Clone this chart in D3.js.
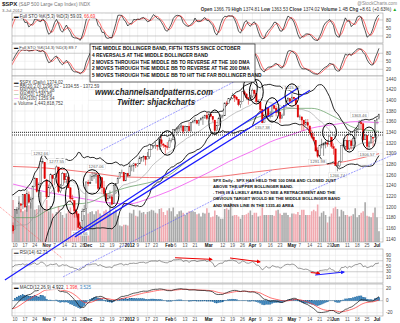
<!DOCTYPE html>
<html><head><meta charset="utf-8">
<script src="https://cdn.jsdelivr.net/npm/d3@7/dist/d3.min.js"></script>
<style>body{margin:0;background:#fff}svg{display:block}text{font-family:"Liberation Sans",Arial,sans-serif}</style>
</head><body><svg id="c" width="400" height="323"></svg>
<script>
// ---------------- DATA ----------------
const months = [
 ["2011-09",[1,2,6,7,8,9,12,13,14,15,16,19,20,21,22,23,26,27,28,29,30]],
 ["2011-10",[3,4,5,6,7,10,11,12,13,14,17,18,19,20,21,24,25,26,27,28,31]],
 ["2011-11",[1,2,3,4,7,8,9,10,11,14,15,16,17,18,21,22,23,25,28,29,30]],
 ["2011-12",[1,2,5,6,7,8,9,12,13,14,15,16,19,20,21,22,23,27,28,29,30]],
 ["2012-01",[3,4,5,6,9,10,11,12,13,17,18,19,20,23,24,25,26,27,30,31]],
 ["2012-02",[1,2,3,6,7,8,9,10,13,14,15,16,17,21,22,23,24,27,28,29]],
 ["2012-03",[1,2,5,6,7,8,9,12,13,14,15,16,19,20,21,22,23,26,27,28,29,30]],
 ["2012-04",[2,3,4,5,9,10,11,12,13,16,17,18,19,20,23,24,25,26,27,30]],
 ["2012-05",[1,2,3,4,7,8,9,10,11,14,15,16,17,18,21,22,23,24,25,29,30,31]],
 ["2012-06",[1,4,5,6,7,8,11,12,13,14,15,18,19,20,21,22,25,26,27,28,29]],
 ["2012-07",[2,3]]
];
const dates = months.flatMap(([m,ds])=>ds.map(d=>m+"-"+String(d).padStart(2,"0")));

const opens = [
 1219,1204,1160,1166,1197,1185,1153,1162,1173,1189,1209,1214,1205,1203,1164,1128,1136,1163,1175,1151,1159,
 1131,1097,1124,1144,1165,1158,1194,1196,1206,1205,1224,1200,1223,1208,1215,1238,1254,1230,1243,1284,1284,
 1251,1219,1238,1260,1253,1262,1275,1230,1240,1263,1251,1256,1236,1216,1212,1192,1187,1162,1175,1192,1197,
 1246,1246,1250,1257,1258,1260,1235,1255,1236,1225,1216,1217,1219,1206,1241,1244,1254,1265,1265,1249,1263,
 1258,1277,1277,1281,1278,1281,1292,1293,1295,1290,1294,1308,1315,1315,1316,1314,1326,1318,1316,1313,
 1312,1325,1326,1344,1345,1347,1350,1352,1343,1351,1351,1343,1358,1362,1362,1357,1363,1366,1368,1372,
 1366,1374,1370,1363,1343,1353,1366,1370,1371,1395,1394,1403,1404,1409,1406,1402,1392,1398,1416,1412,1405,1404,
 1408,1419,1413,1398,1397,1383,1358,1369,1386,1370,1370,1390,1385,1377,1378,1366,1372,1390,1400,1403,
 1398,1406,1403,1391,1368,1369,1363,1355,1358,1352,1338,1331,1325,1306,1296,1316,1316,1318,1320,1318,1331,1313,
 1309,1278,1277,1285,1316,1314,1325,1309,1324,1315,1329,1342,1345,1358,1356,1326,1334,1314,1320,1331,1330,
 1362,1366];
const highs = [
 1230,1204,1168,1198,1204,1185,1163,1177,1202,1209,1220,1214,1220,1206,1164,1141,1164,1195,1185,1175,1159,
 1138,1125,1146,1165,1171,1195,1200,1220,1207,1224,1224,1233,1229,1219,1240,1256,1254,1246,1293,1292,1284,
 1251,1242,1263,1260,1262,1278,1275,1243,1266,1263,1264,1259,1237,1223,1212,1197,1187,1172,1197,1204,1247,
 1251,1261,1266,1266,1267,1260,1258,1255,1249,1225,1226,1231,1224,1242,1245,1256,1265,1270,1265,1264,1264,
 1285,1279,1283,1281,1282,1296,1293,1297,1295,1303,1308,1315,1315,1322,1316,1328,1333,1320,1316,1322,
 1330,1329,1345,1345,1350,1351,1357,1352,1353,1351,1359,1359,1364,1368,1363,1364,1368,1371,1373,1378,
 1377,1376,1370,1363,1354,1369,1374,1373,1396,1399,1403,1406,1414,1409,1408,1402,1399,1417,1419,1413,1405,1410,
 1422,1420,1413,1401,1397,1384,1370,1387,1386,1380,1392,1390,1390,1387,1378,1375,1391,1402,1406,1403,
 1415,1406,1404,1392,1373,1369,1363,1365,1365,1352,1345,1339,1326,1312,1316,1328,1321,1324,1325,1334,1331,1319,
 1309,1282,1287,1315,1329,1326,1335,1325,1327,1333,1343,1348,1363,1361,1358,1337,1334,1324,1334,1331,1362,
 1366,1375];
const lows = [
 1203,1170,1140,1166,1183,1148,1137,1158,1162,1185,1207,1187,1201,1166,1114,1121,1131,1163,1150,1139,1131,
 1099,1074,1116,1134,1150,1158,1187,1196,1190,1196,1198,1191,1206,1197,1215,1238,1227,1219,1243,1281,1253,
 1215,1219,1234,1239,1241,1255,1226,1226,1240,1246,1244,1235,1209,1211,1180,1180,1161,1159,1175,1191,1197,
 1239,1244,1250,1253,1244,1231,1235,1227,1219,1209,1212,1215,1203,1206,1225,1244,1254,1262,1248,1249,1257,
 1258,1267,1266,1273,1275,1281,1285,1285,1278,1290,1290,1308,1310,1309,1306,1307,1313,1311,1300,1307,
 1312,1321,1326,1340,1336,1341,1343,1337,1343,1340,1341,1341,1357,1357,1355,1352,1363,1354,1365,1363,
 1366,1368,1359,1340,1343,1353,1366,1366,1371,1390,1394,1400,1402,1397,1400,1389,1386,1398,1411,1401,1392,1401,
 1404,1405,1394,1393,1378,1357,1358,1369,1370,1366,1370,1383,1370,1377,1358,1366,1372,1387,1397,1394,
 1394,1398,1388,1367,1363,1343,1343,1352,1348,1335,1328,1324,1304,1292,1296,1310,1296,1310,1313,1318,1310,1298,
 1277,1267,1274,1285,1312,1306,1307,1306,1308,1306,1329,1339,1345,1346,1324,1326,1307,1310,1320,1313,1330,
 1355,1364];
const closes = [
 1204,1174,1166,1198,1185,1154,1162,1172,1188,1209,1216,1204,1202,1166,1130,1136,1162,1175,1151,1160,1131,
 1099,1124,1144,1165,1155,1195,1196,1207,1203,1224,1200,1225,1209,1215,1238,1254,1229,1242,1285,1285,1253,
 1219,1237,1261,1253,1261,1275,1229,1239,1263,1251,1257,1236,1216,1215,1193,1188,1162,1159,1192,1195,1247,
 1244,1244,1257,1259,1261,1235,1255,1236,1225,1212,1216,1219,1205,1241,1244,1254,1265,1265,1249,1263,1258,
 1277,1277,1281,1278,1281,1292,1293,1295,1289,1294,1308,1315,1315,1316,1314,1326,1319,1316,1313,1312,
 1324,1325,1345,1345,1347,1350,1352,1342,1351,1351,1343,1358,1361,1362,1357,1363,1366,1368,1372,1366,
 1374,1370,1364,1343,1353,1366,1371,1371,1395,1394,1403,1404,1409,1405,1402,1392,1397,1416,1412,1405,1403,1408,
 1419,1413,1398,1398,1383,1358,1368,1387,1370,1370,1391,1385,1377,1379,1366,1371,1390,1399,1403,1398,
 1406,1403,1392,1369,1369,1363,1355,1358,1353,1339,1331,1325,1305,1295,1316,1317,1319,1321,1318,1333,1314,1310,
 1278,1278,1285,1315,1315,1325,1308,1324,1315,1329,1343,1345,1358,1356,1326,1335,1314,1320,1332,1329,1362,
 1365,1374];
const volumes = [ // billions
 4.0,4.0,5.1,4.4,4.9,5.0,5.2,4.7,4.9,4.5,5.2,4.3,4.3,4.7,6.7,5.6,4.8,5.5,4.8,5.3,4.4,
 5.7,7.2,5.9,5.1,5.6,4.4,4.4,5.4,4.4,4.1,4.3,5.3,4.9,5.3,6.0,4.3,4.4,4.9,6.7,4.5,4.3,
 5.6,4.1,4.8,3.8,3.4,4.0,4.8,4.0,3.6,3.2,3.8,4.1,4.6,3.8,4.2,3.9,3.8,1.4,3.9,3.6,5.8,
 3.8,4.0,4.1,3.7,4.1,4.3,3.8,3.6,4.1,4.3,3.8,5.3,3.7,4.1,4.3,3.5,2.2,2.1,2.3,2.3,2.2,
 3.9,3.8,4.3,3.5,3.4,4.2,3.9,4.0,3.7,4.0,4.1,4.3,4.2,3.9,3.8,4.4,4.5,4.0,3.6,4.2,
 4.5,4.1,4.6,3.4,3.7,4.1,4.2,3.9,3.6,3.9,4.1,4.1,4.1,4.0,3.7,3.8,3.4,3.9,3.8,4.5,
 3.9,3.3,3.4,4.2,3.6,3.4,3.1,3.1,4.4,4.5,4.3,5.2,3.5,3.6,3.6,3.4,3.1,3.6,3.6,3.7,3.9,4.2,
 3.6,3.9,3.9,3.4,3.5,4.6,3.6,3.6,3.6,3.6,3.6,3.5,4.2,4.3,3.8,3.6,3.9,3.9,3.6,3.3,
 3.8,3.8,3.7,4.0,3.6,4.3,4.3,3.6,3.6,3.6,4.1,4.3,4.1,5.0,3.4,3.9,4.1,3.6,2.6,3.4,3.8,4.5,
 4.7,4.4,3.4,4.3,4.1,3.6,3.6,3.4,3.5,3.7,4.5,3.3,3.6,3.9,4.1,5.3,3.5,3.4,3.3,3.9,4.6,
 3.3,1.44];

const ma50 = [["2011-10-07",1180],["2011-10-21",1180],["2011-11-01",1193],["2011-11-15",1204],["2011-12-01",1208],["2011-12-15",1225],["2012-01-03",1238],["2012-01-17",1245],["2012-02-01",1260],["2012-02-15",1289],["2012-03-01",1313],["2012-03-15",1338],["2012-04-02",1364],["2012-04-16",1376],["2012-05-01",1385],["2012-05-15",1385],["2012-06-01",1368],["2012-06-15",1348],["2012-07-03",1342]];
const ma100 = [["2011-10-07",1243],["2011-11-01",1228],["2011-11-15",1221],["2011-12-01",1214],["2011-12-15",1208],["2012-01-03",1206],["2012-01-17",1215],["2012-02-01",1230],["2012-02-15",1247],["2012-03-01",1265],["2012-03-15",1285],["2012-04-02",1305],["2012-04-16",1322],["2012-05-01",1336],["2012-05-15",1348],["2012-06-01",1355],["2012-06-15",1360],["2012-07-03",1358]];
const ma200 = [["2011-10-07",1276],["2011-11-01",1273],["2011-12-01",1265],["2012-01-03",1256],["2012-02-01",1255],["2012-03-01",1256],["2012-04-02",1265],["2012-05-01",1274],["2012-06-01",1282],["2012-07-03",1300]];

const xTicks = [["2011-10-10","10",0],["2011-10-17","17",0],["2011-10-24","24",0],["2011-11-01","Nov",1],["2011-11-07","7",0],["2011-11-14","14",0],["2011-11-21","21",0],["2011-11-28","28",0],["2011-12-01","Dec",1],["2011-12-12","12",0],["2011-12-19","19",0],["2011-12-27","27",0],["2012-01-03","2012",1],["2012-01-09","9",0],["2012-01-17","17",0],["2012-01-23","23",0],["2012-02-01","Feb",1],["2012-02-06","6",0],["2012-02-13","13",0],["2012-02-21","21",0],["2012-03-01","Mar",1],["2012-03-12","12",0],["2012-03-19","19",0],["2012-03-26","26",0],["2012-04-02","Apr",1],["2012-04-09","9",0],["2012-04-16","16",0],["2012-04-23","23",0],["2012-05-01","May",1],["2012-05-07","7",0],["2012-05-14","14",0],["2012-05-21","21",0],["2012-05-29","29",0],["2012-06-01","Jun",1],["2012-06-11","11",0],["2012-06-18","18",0],["2012-06-25","25",0],["2012-07-02","Jul",1]];
const priceTicks = [1440,1420,1400,1380,1360,1340,1320,1300,1280,1260,1240,1220,1200,1180,1160,1140];
const stoTicks = [80,50,20];
const rsiTicks = [90,70,50,30,10];
const macdTicks = [20,0,-20];

const priceNotes = [["2011-10-27","1292.66","h"],["2011-11-08","1277.55","h"],["2011-12-07","1267.06","h"],["2011-11-25","1158.66","l"],["2012-05-01","1415.32","h"],["2012-04-10","1357.38","l"],["2012-05-18","1291.98","l"],["2012-06-04","1266.74","l"],["2012-06-19","1363.46","h"],["2012-06-25","1306.57","l"]];

// annotations (date, price, half-width in days, half-height in points)
const ellipses = [["2011-11-01",1222,4,28],["2011-11-11",1254,3.3,19],["2011-11-18",1219,3.5,32],["2011-12-05",1247,4.5,23],["2011-12-19",1222,3.5,23],["2012-01-31",1320,4,23],["2012-03-06",1359,3,23],["2012-03-30",1423,3.5,23],["2012-04-04",1416,3.5,23],["2012-04-17",1382,3.5,23],["2012-05-01",1410,3.5,21],["2012-05-29",1340,3.5,17],["2012-06-12",1320,3,17],["2012-06-26",1329,3.5,21]];
// trend lines: [idxA, priceA, idxB, priceB]
const thickLines = [[20.9,1063,169.1,1423],[56.3,1144,175.1,1419]];
const thinLines = [[50.3,1069,155.9,1269],[69.5,1306,141.6,1444],[175,1230,219,1301]];
const redDotted = [[18.4,1200,49.8,1104]];
const hLevels = [1340,1335];
const rsiRedArrows = [[106.9,81,125.6,75],[134.7,80,149.9,66],[175.5,27,180,24]];
const rsiBlueArrows = [[177.7,18,192.4,29]];

const boxText = ["THE MIDDLE BOLLINGER BAND, FIFTH TESTS SINCE OCTOBER","4 REVERSALS AT THE MIDDLE BOLLINGER BAND","2 MOVES THROUGH THE MIDDLE BB TO REVERSE AT THE 100 DMA","2 MOVES THROUGH THE MIDDLE BB TO REVERSE AT THE 200 DMA","5 MOVES THROUGH THE MIDDLE BB TO HIT THE FAR BOLLINGER BAND"];
const noteText = ["SPX Daily - SPX HAS HELD THE 100 DMA AND CLOSED JUST","ABOVE THE UPPER BOLLINGER BAND.",". THIS IS A LIKELY AREA TO SEE A RETRACEMENT AND THE","OBVIOUS TARGET WOULD BE THE MIDDLE BOLLINGER BAND","AND WARNS LINE IN THE 1335-40 AREA"];

if([opens,highs,lows,closes,volumes].some(a=>a.length!==dates.length)) throw new Error("length mismatch "+[opens,highs,lows,closes,volumes].map(a=>a.length)+" vs "+dates.length);

// ---------------- INDICATORS ----------------
const N = dates.length;
const di = d => dates.indexOf(d);
function sma(arr,p){return arr.map((v,i)=>{if(i<p-1)return null;const s=arr.slice(i-p+1,i+1);if(s.some(x=>x==null))return null;return d3.mean(s);});}
function ema(arr,p){const k=2/(p+1);let prev=null;return arr.map(v=>{if(v==null)return null;prev=prev==null?v:v*k+prev*(1-k);return prev;});}
const bbMid = sma(closes,20);
const bbSd = closes.map((c,i)=>i<19?null:Math.sqrt(d3.mean(closes.slice(i-19,i+1),v=>(v-bbMid[i])**2)));
const bbUp = bbMid.map((m,i)=>m==null?null:m+2*bbSd[i]);
const bbLo = bbMid.map((m,i)=>m==null?null:m-2*bbSd[i]);
function fullSto(k){
  const fast = closes.map((c,i)=>{if(i<k-1)return null;const hh=d3.max(highs.slice(i-k+1,i+1)),ll=d3.min(lows.slice(i-k+1,i+1));return (c-ll)/(hh-ll)*100;});
  const K = sma(fast,3); return {K, D: sma(K,3)};
}
const sto5 = fullSto(5), sto14 = fullSto(14);
const rsi = (()=>{let ag=0,al=0;const out=new Array(N).fill(null);
  for(let i=1;i<N;i++){const ch=closes[i]-closes[i-1];const g=Math.max(ch,0),l=Math.max(-ch,0);
    if(i<=14){ag+=g/14;al+=l/14;if(i===14)out[i]=100-100/(1+ag/al);}
    else{ag=(ag*13+g)/14;al=(al*13+l)/14;out[i]=100-100/(1+ag/al);} }
  return out;})();
const e12=ema(closes,12), e26=ema(closes,26);
const macd = closes.map((c,i)=>e12[i]-e26[i]);
const sig = ema(macd,9);
const hist = macd.map((m,i)=>m-sig[i]);

// ---------------- LAYOUT ----------------
const svg = d3.select("#c");
const L=12, R=383;
const x = d3.scaleLinear().domain([di("2011-10-10"),di("2012-07-02")]).range([15,377]);
const P = {sto1:[13,43], sto2:[44,76], main:[76,242], rsi:[249,283], macd:[284,316]};
const yS1 = d3.scaleLinear().domain([0,100]).range([41.3,14.6]);
const yS2 = d3.scaleLinear().domain([0,100]).range([74.6,47.9]);
const yP = d3.scaleLinear().domain([1140,1440]).range([239,79]);
const yV = d3.scaleLinear().domain([0,6]).range([242,197]);
const yR = d3.scaleLinear().domain([0,100]).range([280,252.5]);
const yM = d3.scaleLinear().domain([-20,20]).range([312.7,288.7]);
const firstVis = di("2011-10-06");

const defs = svg.append("defs");
Object.entries(P).forEach(([k,[a,b]])=>{defs.append("clipPath").attr("id","cp_"+k).append("rect").attr("x",L).attr("y",a).attr("width",R-L).attr("height",b-a);});
defs.append("marker").attr("id","arR").attr("viewBox","0 0 10 10").attr("refX",8).attr("refY",5).attr("markerWidth",4).attr("markerHeight",4).attr("orient","auto").append("path").attr("d","M0,0L10,5L0,10z").attr("fill","#e00");
defs.append("marker").attr("id","arB").attr("viewBox","0 0 10 10").attr("refX",8).attr("refY",5).attr("markerWidth",4).attr("markerHeight",4).attr("orient","auto").append("path").attr("d","M0,0L10,5L0,10z").attr("fill","#22f");

function panel(key, yScale, ticks, fmt, strong){
  const [a,b]=P[key];
  svg.append("rect").attr("x",L).attr("y",a).attr("width",R-L).attr("height",b-a).attr("fill","#fff");
  const g = svg.append("g").attr("clip-path","url(#cp_"+key+")");
  xTicks.forEach(t=>g.append("line").attr("x1",x(di(t[0]))).attr("x2",x(di(t[0]))).attr("y1",a).attr("y2",b).attr("stroke","#e2e2e2").attr("stroke-width",0.5));
  ticks.forEach(v=>{
    g.append("line").attr("x1",L).attr("x2",R).attr("y1",yScale(v)).attr("y2",yScale(v)).attr("stroke",strong&&strong.includes(v)?"#9a9a9a":"#e2e2e2").attr("stroke-width",0.5);
    svg.append("text").attr("x",R+3).attr("y",yScale(v)+1.6).attr("font-size",4.6).attr("fill","#444").text(fmt?fmt(v):v);
  });
  return g;
}
function lineOn(g, arr, yScale, color, w){
  const pts = arr.map((v,i)=>[i,v]).filter(p=>p[1]!=null && p[0]>=firstVis);
  g.append("path").attr("d",d3.line().x(p=>x(p[0])).y(p=>yScale(p[1]))(pts)).attr("fill","none").attr("stroke",color).attr("stroke-width",w);
}
function frame(key){const [a,b]=P[key];svg.append("rect").attr("x",L).attr("y",a).attr("width",R-L).attr("height",b-a).attr("fill","none").attr("stroke","#9a9a9a").attr("stroke-width",0.6);}
function legend(xp,yp,parts){
  const t = svg.append("text").attr("x",xp).attr("y",yp).attr("font-size",4.5).attr("fill","#333");
  parts.forEach(p=>t.append("tspan").attr("fill",p[1]||"#333").attr("font-weight",p[2]?"bold":null).text(p[0]));
  return t;
}

// Header
const h1 = svg.append("text").attr("x",2).attr("y",6).attr("font-size",6).attr("fill","#333");
h1.append("tspan").attr("font-weight","bold").attr("fill","#222").text("$SPX");
h1.append("tspan").attr("font-size",4.8).attr("fill","#777").text(" (S&P 500 Large Cap Index) INDX");
svg.append("text").attr("x",2).attr("y",11.5).attr("font-size",4.3).attr("fill","#666").text("3-Jul-2012");
svg.append("text").attr("x",397).attr("y",5).attr("text-anchor","end").attr("font-size",4.6).attr("fill","#888").text("@StockCharts.com");
const hd = svg.append("text").attr("x",397).attr("y",11.3).attr("text-anchor","end").attr("font-size",4.6).attr("fill","#333");
[["Open ",1],["1366.79  ",0],["High ",1],["1374.81  ",0],["Low ",1],["1363.53  ",0],["Close ",1],["1374.02  ",0],["Volume ",1],["1.4B  ",0],["Chg ",1],["+8.61 (+0.63%) ",0]].forEach(p=>hd.append("tspan").attr("font-weight",p[1]?"bold":null).text(p[0]));
hd.append("tspan").attr("fill","#2a2").text("▲");

// STO panels
const g1 = panel("sto1", yS1, stoTicks, null, [80,20]);
lineOn(g1, sto5.D, yS1, "#f33", 0.7); lineOn(g1, sto5.K, yS1, "#111", 0.7); frame("sto1");
svg.append("rect").attr("x",L+1).attr("y",P.sto1[0]+0.8).attr("width",92).attr("height",5).attr("fill","#fff").attr("opacity",0.85);
legend(L+2,P.sto1[0]+4.8,[["▬ ","#111"],["Full STO %K(5,3) %D(3) 59.03, ","#333"],["66.69","#f33"]]);
const g2 = panel("sto2", yS2, stoTicks, null, [80,20]);
lineOn(g2, sto14.D, yS2, "#f33", 0.7); lineOn(g2, sto14.K, yS2, "#111", 0.7); frame("sto2");
svg.append("rect").attr("x",L+1).attr("y",P.sto2[0]+0.8).attr("width",76).attr("height",5).attr("fill","#fff").attr("opacity",0.85);
legend(L+2,P.sto2[0]+4.8,[["▬ ","#111"],["Full STO %K(14,3) %D(3) 89.7","#333"]]).attr("font-size",4.2);

// Main panel
const gm = panel("main", yP, priceTicks, null, []);
d3.range(firstVis,N).forEach(i=>{
  const down = closes[i]<closes[i-1];
  gm.append("rect").attr("x",x(i)-0.8).attr("width",1.6).attr("y",yV(volumes[i])).attr("height",yV(0)-yV(volumes[i])).attr("fill",down?"#f1a9b0":"#a9a9a9");
});
const maLine = (arr,color,w)=>{const pts=arr.map(d=>[di(d[0]),d[1]]);gm.append("path").attr("d",d3.line().curve(d3.curveMonotoneX).x(p=>x(p[0])).y(p=>yP(p[1]))(pts)).attr("fill","none").attr("stroke",color).attr("stroke-width",w);};
maLine(ma200,"#f05050",0.8); maLine(ma100,"#f050f0",0.8); maLine(ma50,"#5a9a5a",0.7);
lineOn(gm, bbMid, yP, "#999", 0.6);
lineOn(gm, bbUp, yP, "#111", 0.9); lineOn(gm, bbLo, yP, "#111", 0.9);
d3.range(firstVis,N).forEach(i=>{
  const o=opens[i],c=closes[i];
  const col = c<closes[i-1] ? "#e00000" : "#333";
  gm.append("line").attr("x1",x(i)).attr("x2",x(i)).attr("y1",yP(highs[i])).attr("y2",yP(lows[i])).attr("stroke",col).attr("stroke-width",0.5);
  const top=yP(Math.max(o,c)), bot=yP(Math.min(o,c));
  gm.append("rect").attr("x",x(i)-0.75).attr("width",1.5).attr("y",top).attr("height",Math.max(bot-top,0.4)).attr("fill",c>=o?"#fff":col).attr("stroke",col).attr("stroke-width",0.4);
});
hLevels.forEach(v=>gm.append("line").attr("x1",L).attr("x2",R).attr("y1",yP(v)).attr("y2",yP(v)).attr("stroke","#111").attr("stroke-width",0.9).attr("stroke-dasharray","1,1"));
priceNotes.forEach(([d,v,t])=>{
  const i=di(d), val=+v; const yy = t==="h"? yP(val)-3 : yP(val)+5.5;
  gm.append("rect").attr("x",x(i)-9).attr("y",yy-4).attr("width",18).attr("height",5).attr("fill","#fff").attr("stroke","#ccc").attr("stroke-width",0.3);
  gm.append("text").attr("x",x(i)).attr("y",yy).attr("text-anchor","middle").attr("font-size",4.2).attr("fill","#666").text(v);
});
frame("main");
const lg = [["▬ ","#333","$SPX (Daily) 1374.02"],["— ","#111","BB(20,2.0) 1296.92 - 1334.55 - 1372.59"],["— ","#f05050","MA(200) 1301.38"],["— ","#5a9a5a","MA(50) 1340.89"],["— ","#f050f0","MA(100) 1359.94"],["■ ","#a9a9a9","Volume 1,443,818,752"]];
svg.append("rect").attr("x",L+1).attr("y",P.main[0]+3.5).attr("width",75).attr("height",25).attr("fill","#fff").attr("opacity",0.8);
lg.forEach((l,k)=>legend(L+2,P.main[0]+8+k*4.1,[[l[0],l[1]],[l[2],"#444"]]));

// RSI
const gr = panel("rsi", yR, rsiTicks, null, [70,30]);
lineOn(gr, rsi, yR, "#555", 0.6); frame("rsi");
svg.append("rect").attr("x",L+1).attr("y",P.rsi[0]+0.8).attr("width",30).attr("height",5).attr("fill","#fff");
legend(L+2,P.rsi[0]+4.8,[["▬ ","#555"],["RSI(14) 62.71","#333"]]);
rsiRedArrows.forEach(a=>svg.append("line").attr("x1",x(a[0])).attr("x2",x(a[2])).attr("y1",yR(a[1])).attr("y2",yR(a[3])).attr("stroke","#e00").attr("stroke-width",1).attr("marker-end","url(#arR)"));
rsiBlueArrows.forEach(a=>svg.append("line").attr("x1",x(a[0])).attr("x2",x(a[2])).attr("y1",yR(a[1])).attr("y2",yR(a[3])).attr("stroke","#22f").attr("stroke-width",1).attr("marker-end","url(#arB)"));

// MACD
const gM = panel("macd", yM, macdTicks, null, [0]);
d3.range(firstVis,N).forEach(i=>{
  gM.append("rect").attr("x",x(i)-0.85).attr("width",1.7).attr("y",Math.min(yM(hist[i]),yM(0))).attr("height",Math.abs(yM(hist[i])-yM(0))).attr("fill","#3d87bf").attr("stroke","#1d5f92").attr("stroke-width",0.3);
});
lineOn(gM, sig, yM, "#f33", 0.7); lineOn(gM, macd, yM, "#111", 0.7); frame("macd");
svg.append("rect").attr("x",L+1).attr("y",P.macd[0]+0.8).attr("width",64).attr("height",5).attr("fill","#fff");
legend(L+2,P.macd[0]+4.8,[["▬ ","#111"],["MACD(12,26,9) ","#333"],["4.922, ","#111"],["1.398, ","#f33"],["3.525","#3d87bf"]]);

// x-axis labels
[P.main[1]+5.2, P.macd[1]+5.3].forEach(yy=>{
  xTicks.forEach(t=>svg.append("text").attr("x",x(di(t[0]))).attr("y",yy).attr("text-anchor","middle").attr("font-size",4.5).attr("font-weight",t[2]?"bold":null).attr("fill",t[2]?"#111":"#555").text(t[1]));
});

// ---------- annotations ----------
const ann = svg.append("g");
thickLines.forEach(l=>ann.append("line").attr("x1",x(l[0])).attr("y1",yP(l[1])).attr("x2",x(l[2])).attr("y2",yP(l[3])).attr("stroke","#1a1aff").attr("stroke-width",1.2));
thinLines.forEach(l=>ann.append("line").attr("x1",x(l[0])).attr("y1",yP(l[1])).attr("x2",x(l[2])).attr("y2",yP(l[3])).attr("stroke","#5a5aff").attr("stroke-width",0.6).attr("stroke-dasharray","2,1"));
redDotted.forEach(l=>ann.append("line").attr("x1",x(l[0])).attr("y1",yP(l[1])).attr("x2",x(l[2])).attr("y2",yP(l[3])).attr("stroke","#f44").attr("stroke-width",0.6).attr("stroke-dasharray","1,1"));
ellipses.forEach(([d,p,rd,rp])=>{const i=di(d);ann.append("ellipse").attr("cx",x(i)).attr("cy",yP(p)).attr("rx",x(i+rd)-x(i)).attr("ry",yP(p-rp)-yP(p)).attr("fill","none").attr("stroke","#000").attr("stroke-width",1);});

ann.append("rect").attr("x",90).attr("y",44).attr("width",165).attr("height",38).attr("fill","#fff").attr("stroke","#222").attr("stroke-width",0.7);
boxText.forEach((s,k)=>ann.append("text").attr("x",92).attr("y",50+k*6.8).attr("font-size",4.8).attr("font-weight","bold").attr("fill","#111").text(s));
ann.append("text").attr("x",95).attr("y",95).attr("font-family","'Liberation Serif',serif").attr("font-style","italic").attr("font-weight","bold").attr("font-size",9).attr("fill","#222").attr("textLength",118).attr("lengthAdjust","spacingAndGlyphs").text("www.channelsandpatterns.com");
ann.append("text").attr("x",117).attr("y",105).attr("font-family","'Liberation Serif',serif").attr("font-style","italic").attr("font-weight","bold").attr("font-size",9).attr("fill","#222").attr("textLength",78).attr("lengthAdjust","spacingAndGlyphs").text("Twitter: shjackcharts");
noteText.forEach((s,k)=>ann.append("text").attr("x",213).attr("y",[182,187.5,194,199.5,207][k]).attr("font-size",4.2).attr("font-weight","bold").attr("fill","#111").text(s));
</script></body></html>
